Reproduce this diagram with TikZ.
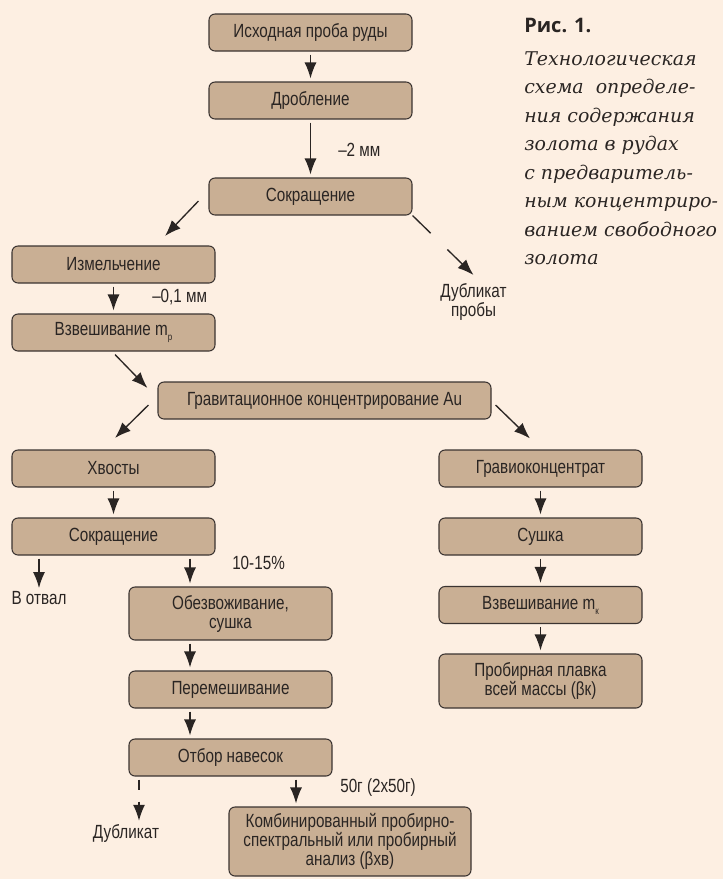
\documentclass[tikz,border=0pt]{standalone}
\usepackage{fontspec}
\usetikzlibrary{arrows.meta}
\newfontfamily\boxfont[FakeStretch=0.8]{Liberation Sans}
\newfontfamily\capfont{DejaVu Serif}
\newfontfamily\figfont{Open Sans}
\definecolor{bgc}{HTML}{FDEFE2}
\definecolor{boxfill}{HTML}{C9AF94}
\definecolor{boxline}{HTML}{3B3431}
\definecolor{ink}{HTML}{2A2523}
\newcommand\subs[1]{\raisebox{-0.5ex}{\fontsize{7.5}{7.5}\selectfont #1}}
\tikzset{
  box/.style={draw=boxline, fill=boxfill, rounded corners=4.5pt, line width=0.8pt,
    minimum width=152.25pt, minimum height=27.75pt, inner sep=1pt, align=center,
    text=ink, font=\boxfont\fontsize{14.3}{14.25}\selectfont},
  lbl/.style={text=ink, inner sep=0pt, font=\boxfont\fontsize{14.3}{12.75}\selectfont},
  arr/.style={draw=ink, line width=1pt, -{Latex[length=12pt,width=9pt]}},
  gap/.style={shorten <=2.25pt, shorten >=2.25pt}
}
\begin{document}
\begin{tikzpicture}[x=0.75pt,y=-0.75pt]
        \useasboundingbox (0,0) rectangle (723,879);
        \fill[bgc] (0,0) rectangle (723,879);
        \node[box] (ishod) at (310.5,32.5) {Исходная проба руды};
        \node[box] (drob) at (310.5,100.5) {Дробление};
        \node[box] (sokr) at (310.5,196.5) {Сокращение};
        \node[box] (izm) at (113.5,264.5) {Измельчение};
        \node[box] (vzvp) at (113.5,332.5) {Взвешивание m\subs{р}};
        \node[box, minimum width=249.75pt] (grav) at (324.5,400.5) {Гравитационное концентрирование Au};
        \node[box] (hvost) at (113.5,468.5) {Хвосты};
        \node[box] (gravk) at (540.5,468.5) {Гравиоконцентрат};
        \node[box] (sokr2) at (113.5,536.5) {Сокращение};
        \node[box] (sushka) at (540.5,536.5) {Сушка};
        \node[box, minimum height=39.75pt] (obezv) at (230.5,613.5) {Обезвоживание,\\сушка};
        \node[box] (vzvk) at (540.5,605) {Взвешивание m\subs{к}};
        \node[box] (perem) at (230.5,689.5) {Перемешивание};
        \node[box, minimum height=40.5pt] (prob) at (540.5,681) {Пробирная плавка\\всей массы (βк)};
        \node[box] (otbor) at (230.5,757.5) {Отбор навесок};
        \node[box, minimum width=181.5pt, minimum height=51.75pt] (komb) at (350,841.5) {Комбинированный пробирно-\\спектральный или пробирный\\анализ (βхв)};

        \node[lbl, anchor=west] (mm2) at (338,150) {–2 мм};
        \node[lbl, anchor=west] (mm01) at (152,297) {–0,1 мм};
        \node[lbl, anchor=north, align=center] (dublp) at (473.5,283) {Дубликат\\пробы};
        \node[lbl] (otval) at (39,598) {В отвал};
        \node[lbl, anchor=west] (pct) at (232,563) {10-15\%};
        \node[lbl] (dubl) at (126,833) {Дубликат};
        \node[lbl, anchor=west] (g50) at (340,788) {50г (2х50г)};

        \node[anchor=base west, inner sep=0pt, text=ink, font=\figfont\bfseries\fontsize{15}{15}\selectfont] (fig) at (524,32) {Рис. 1.};
        \node[anchor=north west, inner sep=0pt, align=left, text=ink, font=\capfont\itshape\fontsize{14.2}{21.4}\selectfont] (cap) at (524,51) {Технологическая\\схема~ определе-\\ния содержания\\золота в рудах\\с предваритель-\\ным концентриро-\\ванием свободного\\золота};

        \coordinate (midx) at (190,0);
        \coordinate (dupx) at (139,0);
        \coordinate (komx) at (296,0);

        \draw[arr, gap] (ishod) -- (drob);
        \draw[arr, gap] (drob) -- (sokr);
        \draw[arr] ([shift={(-10,4.5)}]sokr.west) -- ([shift={(51.5,-9.5)}]izm.north);
        \draw[arr, dash pattern=on 19pt off 17.5pt on 60pt] (sokr.south east) -- ([shift={(0,-8)}]dublp.north);
        \draw[arr, gap] (izm) -- (vzvp);
        \draw[arr] ([shift={(1.5,3)}]vzvp.south) -- ([shift={(-10,-12.5)}]grav.west);
        \draw[arr] ([shift={(-9,4.5)}]grav.west) -- ([shift={(1.5,-11.5)}]hvost.north);
        \draw[arr] ([shift={(4,4.5)}]grav.east) -- ([shift={(-10.5,-11)}]gravk.north);
        \draw[arr, gap] (hvost) -- (sokr2);
        \draw[arr, gap] (sokr2.south -| otval.north) -- (otval.north);
        \draw[arr, gap] (sokr2.south -| midx) -- (obezv.north -| midx);
        \draw[arr, gap] (obezv.south -| midx) -- (perem.north -| midx);
        \draw[arr, gap] (perem.south -| midx) -- (otbor.north -| midx);
        \draw[arr, gap, dash pattern=on 7.5pt off 9pt on 30pt] (otbor.south -| dupx) -- (dubl.north -| dupx);
        \draw[arr, gap] (otbor.south -| komx) -- (komb.north -| komx);
        \draw[arr, gap] (gravk) -- (sushka);
        \draw[arr, gap] (sushka) -- (vzvk);
        \draw[arr, gap] (vzvk) -- (prob);
    \end{tikzpicture}
\end{document}
